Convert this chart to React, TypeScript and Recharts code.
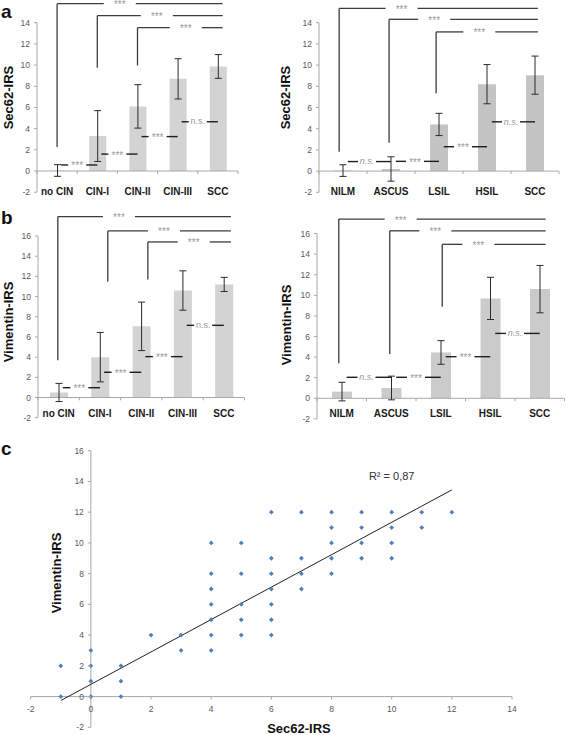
import React from 'react';
import {
  ComposedChart,
  Bar,
  ErrorBar,
  XAxis,
  YAxis,
  ReferenceLine,
  ReferenceDot,
  ScatterChart,
  Scatter,
} from 'recharts';

const FONT = '"Liberation Sans", Arial, Helvetica, sans-serif';

// ---------- categories ----------
const cinGroups = ['no CIN', 'CIN-I', 'CIN-II', 'CIN-III', 'SCC'];
const cytoGroups = ['NILM', 'ASCUS', 'LSIL', 'HSIL', 'SCC'];

// ---------- panel a: Sec62-IRS ----------
const sec62CinMean = [0.05, 3.3, 6.1, 8.7, 9.87];
const sec62CinSD = [0.55, 2.4, 2.05, 1.9, 1.12];
const sec62CytoMean = [0.05, 0.2, 4.4, 8.2, 9.05];
const sec62CytoSD = [0.55, 1.15, 1.05, 1.85, 1.8];

// ---------- panel b: Vimentin-IRS ----------
const vimCinMean = [0.5, 4.0, 7.05, 10.6, 11.2];
const vimCinSD = [0.9, 2.45, 2.4, 1.95, 0.7];
const vimCytoMean = [0.65, 1.0, 4.45, 9.7, 10.6];
const vimCytoSD = [0.9, 1.15, 1.15, 2.05, 2.3];

// ---------- significance brackets (group, lower end, upper level, label position) ----------
const sec62CinBrackets = [
  { from: 0, base: 2.27, top: 15.8, labelAt: 1.56 },
  { from: 1, base: 9.74, top: 14.66, labelAt: 2.48 },
  { from: 2, base: 9.96, top: 13.53, labelAt: 3.2 },
];
const sec62CytoBrackets = [
  { from: -0.08, base: 1.82, top: 15.36, labelAt: 1.22 },
  { from: 0.96, base: 2.67, top: 14.32, labelAt: 1.9 },
  { from: 1.94, base: 7.34, top: 13.13, labelAt: 2.84 },
];
const vimCinBrackets = [
  { from: -0.02, base: 3.7, top: 17.92, labelAt: 1.46 },
  { from: 1.19, base: 11.48, top: 16.5, labelAt: 2.55 },
  { from: 2.16, base: 11.7, top: 15.41, labelAt: 3.27 },
];
const vimCytoBrackets = [
  { from: -0.06, base: 3.4, top: 17.4, labelAt: 1.19 },
  { from: 0.97, base: 4.3, top: 16.26, labelAt: 1.89 },
  { from: 2.03, base: 8.9, top: 14.95, labelAt: 2.76 },
];

// ---------- neighbour comparisons (left group, level, result) ----------
const sec62CinPairs = [
  { from: 0, level: 0.57, sig: '***' },
  { from: 1, level: 1.6, sig: '***' },
  { from: 2, level: 3.25, sig: '***' },
  { from: 3, level: 4.65, sig: 'n.s.' },
];
const sec62CytoPairs = [
  { from: 0, level: 0.9, sig: 'n.s.' },
  { from: 1, level: 0.92, sig: '***' },
  { from: 2, level: 2.3, sig: '***' },
  { from: 3, level: 4.65, sig: 'n.s.' },
];
const vimCinPairs = [
  { from: 0, level: 0.97, sig: '***' },
  { from: 1, level: 2.5, sig: '***' },
  { from: 2, level: 4.05, sig: '***' },
  { from: 3, level: 7.15, sig: 'n.s.' },
];
const vimCytoPairs = [
  { from: 0, level: 2.04, sig: 'n.s.' },
  { from: 1, level: 2.04, sig: '***' },
  { from: 2, level: 4.04, sig: '***' },
  { from: 3, level: 6.3, sig: 'n.s.' },
];

// ---------- panel c: scatter ----------
const scatterSec62 = [
  -1, -1,
  0, 0, 0, 0,
  1, 1, 1,
  2,
  3, 3,
  4, 4, 4, 4, 4, 4, 4,
  5, 5, 5, 5, 5,
  6, 6, 6, 6, 6, 6, 6,
  7, 7, 7, 7,
  8, 8, 8, 8, 8,
  9, 9, 9, 9,
  10, 10, 10, 10,
  11, 11,
  12,
];
const scatterVimentin = [
  2, 0,
  3, 2, 1, 0,
  2, 1, 0,
  4,
  4, 3,
  10, 8, 7, 6, 5, 4, 3,
  10, 8, 6, 5, 4,
  12, 9, 8, 7, 6, 5, 4,
  12, 9, 8, 7,
  12, 11, 10, 9, 8,
  12, 11, 10, 9,
  12, 11, 10, 9,
  12, 11,
  12,
];
const trendLine = [
  { x: -1, y: -0.26 },
  { x: 12, y: 13.45 },
];
const r2Text = 'R² = 0,87';
const r2Pos = { x: 10.0, y: 14.36 };

const xTicksC = [-2, 0, 2, 4, 6, 8, 10, 12, 14];
const yTicksC = [-2, 0, 2, 4, 6, 8, 10, 12, 14, 16];

const AXIS_GREY = '#a8a8a8';
const TICK_GREY = '#595959';

const panels = [
  {
    key: 'aL', groups: cinGroups, mean: sec62CinMean, sd: sec62CinSD,
    brackets: sec62CinBrackets, pairs: sec62CinPairs, bracketEnd: 4.12, yMax: 14,
    box: { left: 0, top: 0, width: 283, height: 205 },
    plot: { left: 37, right: 238, top: 22.7, bottom: 192.2 },
    barSize: 17, barColor: '#d3d3d3', italicNS: false, labelDy: 2.4,
  },
  {
    key: 'aR', groups: cytoGroups, mean: sec62CytoMean, sd: sec62CytoSD,
    brackets: sec62CytoBrackets, pairs: sec62CytoPairs, bracketEnd: 4.06, yMax: 14,
    box: { left: 283, top: 0, width: 284, height: 205 },
    plot: { left: 319, right: 559, top: 22.7, bottom: 192.3 },
    barSize: 18, barColor: '#c4c4c4', italicNS: true, labelDy: 2.3,
  },
  {
    key: 'bL', groups: cinGroups, mean: vimCinMean, sd: vimCinSD,
    brackets: vimCinBrackets, pairs: vimCinPairs, bracketEnd: 4.17, yMax: 16,
    box: { left: 0, top: 205, width: 283, height: 230 },
    plot: { left: 38, right: 244.5, top: 236, bottom: 417.7 },
    barSize: 18, barColor: '#d3d3d3', italicNS: false, labelDy: -0.7,
  },
  {
    key: 'bR', groups: cytoGroups, mean: vimCytoMean, sd: vimCytoSD,
    brackets: vimCytoBrackets, pairs: vimCytoPairs, bracketEnd: 4.12, yMax: 16,
    box: { left: 283, top: 205, width: 284, height: 230 },
    plot: { left: 317, right: 564.5, top: 233.5, bottom: 418.9 },
    barSize: 20, barColor: '#cbcbcb', italicNS: true, labelDy: -1.9,
  },
];

function BarPanel({ cfg }: { cfg: any }) {
  const { box, plot } = cfg;
  const rows = cfg.groups.map((g: string, i: number) => ({
    group: g,
    idx: i,
    mean: cfg.mean[i],
    sd: cfg.sd[i],
  }));
  const band = (plot.right - plot.left) / cfg.groups.length;
  const yTicks: number[] = [];
  for (let v = -2; v <= cfg.yMax; v += 2) yTicks.push(v);
  const bHalf = 16 / band;
  const pHalf = 9 / band;

  const bracketSegs: any[] = [];
  const labels: any[] = [];
  cfg.brackets.forEach((b: any) => {
    bracketSegs.push([{ x: b.from, y: b.base }, { x: b.from, y: b.top }]);
    bracketSegs.push([{ x: b.from, y: b.top }, { x: b.labelAt - bHalf, y: b.top }]);
    bracketSegs.push([{ x: b.labelAt + bHalf, y: b.top }, { x: cfg.bracketEnd, y: b.top }]);
    labels.push({ x: b.labelAt, y: b.top, text: '***' });
  });
  const pairSegs: any[] = [];
  cfg.pairs.forEach((p: any) => {
    const c = p.from + 0.5;
    pairSegs.push([{ x: p.from + 0.1, y: p.level }, { x: c - pHalf, y: p.level }]);
    pairSegs.push([{ x: c + pHalf, y: p.level }, { x: p.from + 1.0, y: p.level }]);
    labels.push({ x: c, y: p.level, text: p.sig });
  });
  const boundaries = [-0.5, 0.5, 1.5, 2.5, 3.5, 4.5];

  const catTick = (props: any) => (
    <text
      x={props.x}
      y={props.y + cfg.labelDy}
      textAnchor="middle"
      fontFamily={FONT}
      fontWeight="bold"
      fontSize={10}
      fill="#1a1a1a"
    >
      {props.payload.value}
    </text>
  );

  return (
    <div style={{ position: 'absolute', left: box.left, top: box.top }}>
      <ComposedChart
        width={box.width}
        height={box.height}
        data={rows}
        margin={{
          top: plot.top - box.top,
          right: box.left + box.width - plot.right,
          bottom: 0,
          left: 0,
        }}
      >
        <XAxis
          xAxisId="c"
          dataKey="group"
          type="category"
          height={box.top + box.height - plot.bottom}
          axisLine={false}
          tickLine={false}
          tickSize={0}
          tickMargin={0}
          interval={0}
          tick={catTick}
        />
        <XAxis xAxisId="n" dataKey="idx" type="number" domain={[-0.5, 4.5]} hide />
        <YAxis
          type="number"
          domain={[-2, cfg.yMax]}
          ticks={yTicks}
          interval={0}
          allowDataOverflow
          width={plot.left - box.left}
          axisLine={{ stroke: AXIS_GREY, strokeWidth: 1 }}
          tickLine={{ stroke: AXIS_GREY, strokeWidth: 1 }}
          tickSize={3}
          tickMargin={4}
          tick={{ fontSize: 8.5, fill: TICK_GREY, fontFamily: FONT }}
        />
        <ReferenceLine xAxisId="n" y={0} stroke={AXIS_GREY} strokeWidth={1} />
        {boundaries.map((bx) => (
          <ReferenceLine
            key={'t' + bx}
            xAxisId="n"
            segment={[{ x: bx, y: 0 }, { x: bx, y: -0.28 }]}
            stroke={AXIS_GREY}
            strokeWidth={1}
            ifOverflow="visible"
          />
        ))}
        <Bar
          xAxisId="c"
          dataKey="mean"
          fill={cfg.barColor}
          barSize={cfg.barSize}
          isAnimationActive={false}
        >
          <ErrorBar
            dataKey="sd"
            width={3.5}
            stroke="#2b2b2b"
            strokeWidth={1}
            direction="y"
            isAnimationActive={false}
          />
        </Bar>
        {bracketSegs.map((s, i) => (
          <ReferenceLine
            key={'b' + i}
            xAxisId="n"
            segment={s}
            stroke="#3c3c3c"
            strokeWidth={1.3}
            ifOverflow="visible"
          />
        ))}
        {pairSegs.map((s, i) => (
          <ReferenceLine
            key={'p' + i}
            xAxisId="n"
            segment={s}
            stroke="#1e1e1e"
            strokeWidth={1.4}
            ifOverflow="visible"
          />
        ))}
        {labels.map((l, i) => (
          <ReferenceDot
            key={'l' + i}
            xAxisId="n"
            x={l.x}
            y={l.y}
            r={1}
            ifOverflow="visible"
            shape={(p: any) => (
              <text
                x={p.cx}
                y={p.cy}
                dy={l.text === '***' ? '0.45em' : '0.3em'}
                textAnchor="middle"
                fontFamily={FONT}
                fontSize={l.text === '***' ? 10 : 9}
                fontStyle={l.text === 'n.s.' && cfg.italicNS ? 'italic' : 'normal'}
                fill="#9a9a9a"
              >
                {l.text}
              </text>
            )}
          />
        ))}
      </ComposedChart>
    </div>
  );
}

function ScatterPanel() {
  const L = 30.7;
  const R = 512;
  const T = 450.7;
  const B = 727.3;
  const boxTop = 440;
  const W = 567;
  const H = 295;
  const xDom = [-2, 14];
  const yDom = [-2, 16];
  const offY = ((B - T) * (0 - yDom[0])) / (yDom[1] - yDom[0]);
  const offX = ((R - L) * (0 - xDom[0])) / (xDom[1] - xDom[0]);
  const pts = scatterSec62.map((x, i) => ({ x, y: scatterVimentin[i] }));

  const xTick = (p: any) => (
    <g>
      <line x1={p.x} x2={p.x} y1={p.y - offY} y2={p.y - offY + 3} stroke={AXIS_GREY} />
      <text
        x={p.x}
        y={p.y - offY + 15}
        textAnchor="middle"
        fontFamily={FONT}
        fontSize={8.5}
        fill={TICK_GREY}
      >
        {p.payload.value}
      </text>
    </g>
  );
  const yTick = (p: any) => (
    <g>
      <line x1={p.x + offX - 3} x2={p.x + offX} y1={p.y} y2={p.y} stroke={AXIS_GREY} />
      <text
        x={p.x + offX - 7}
        y={p.y}
        dy="0.35em"
        textAnchor="end"
        fontFamily={FONT}
        fontSize={8.5}
        fill={TICK_GREY}
      >
        {p.payload.value}
      </text>
    </g>
  );
  const diamond = (p: any) => {
    const r = 2.4;
    return (
      <path
        d={`M${p.cx},${p.cy - r}L${p.cx + r},${p.cy}L${p.cx},${p.cy + r}L${p.cx - r},${p.cy}Z`}
        fill="#4f7fbd"
      />
    );
  };

  return (
    <div style={{ position: 'absolute', left: 0, top: boxTop }}>
      <ScatterChart
        width={W}
        height={H}
        margin={{ top: T - boxTop, right: W - R, bottom: 0, left: 0 }}
      >
        <XAxis
          type="number"
          dataKey="x"
          domain={xDom}
          ticks={xTicksC}
          interval={0}
          allowDataOverflow
          height={boxTop + H - B}
          axisLine={false}
          tickLine={false}
          tickSize={0}
          tickMargin={0}
          tick={xTick}
        />
        <YAxis
          type="number"
          dataKey="y"
          domain={yDom}
          ticks={yTicksC}
          interval={0}
          allowDataOverflow
          width={L}
          axisLine={false}
          tickLine={false}
          tickSize={0}
          tickMargin={0}
          tick={yTick}
        />
        <ReferenceLine x={0} stroke={AXIS_GREY} strokeWidth={1} />
        <ReferenceLine y={0} stroke={AXIS_GREY} strokeWidth={1} />
        <Scatter data={pts} shape={diamond} isAnimationActive={false} />
        <ReferenceLine
          segment={trendLine}
          stroke="#222"
          strokeWidth={1}
          ifOverflow="visible"
        />
        <ReferenceDot
          x={r2Pos.x}
          y={r2Pos.y}
          r={1}
          ifOverflow="visible"
          shape={(p: any) => (
            <text
              x={p.cx}
              y={p.cy}
              dy="0.35em"
              textAnchor="middle"
              fontFamily={FONT}
              fontSize={11}
              fill="#333"
            >
              {r2Text}
            </text>
          )}
        />
      </ScatterChart>
    </div>
  );
}

export default function App() {
  const titleStyle = {
    fontFamily: FONT,
    fontWeight: 'bold' as const,
    fontSize: 13,
    fill: '#111',
  };
  const letterStyle = {
    fontFamily: FONT,
    fontWeight: 'bold' as const,
    fontSize: 19,
    fill: '#111',
  };
  return (
    <div
      style={{
        position: 'absolute',
        left: 0,
        top: 0,
        width: 567,
        height: 735,
        background: '#fff',
        overflow: 'hidden',
      }}
    >
      {panels.map((cfg) => (
        <BarPanel key={cfg.key} cfg={cfg} />
      ))}
      <ScatterPanel />
      <svg
        width={567}
        height={735}
        style={{ position: 'absolute', left: 0, top: 0, pointerEvents: 'none' }}
      >
        <text x={1} y={17.5} {...letterStyle}>a</text>
        <text x={1} y={224} {...letterStyle}>b</text>
        <text x={1} y={455} {...letterStyle}>c</text>

        <text transform="translate(8,97.5) rotate(-90)" textAnchor="middle" dy="0.35em" {...titleStyle}>Sec62-IRS</text>
        <text transform="translate(285,97.5) rotate(-90)" textAnchor="middle" dy="0.35em" {...titleStyle}>Sec62-IRS</text>
        <text transform="translate(8,322) rotate(-90)" textAnchor="middle" dy="0.35em" {...titleStyle}>Vimentin-IRS</text>
        <text transform="translate(286,325) rotate(-90)" textAnchor="middle" dy="0.35em" {...titleStyle}>Vimentin-IRS</text>
        <text transform="translate(56,573) rotate(-90)" textAnchor="middle" dy="0.35em" {...titleStyle}>Vimentin-IRS</text>
        <text x={299} y={728} textAnchor="middle" dy="0.35em" {...titleStyle}>Sec62-IRS</text>
      </svg>
    </div>
  );
}
